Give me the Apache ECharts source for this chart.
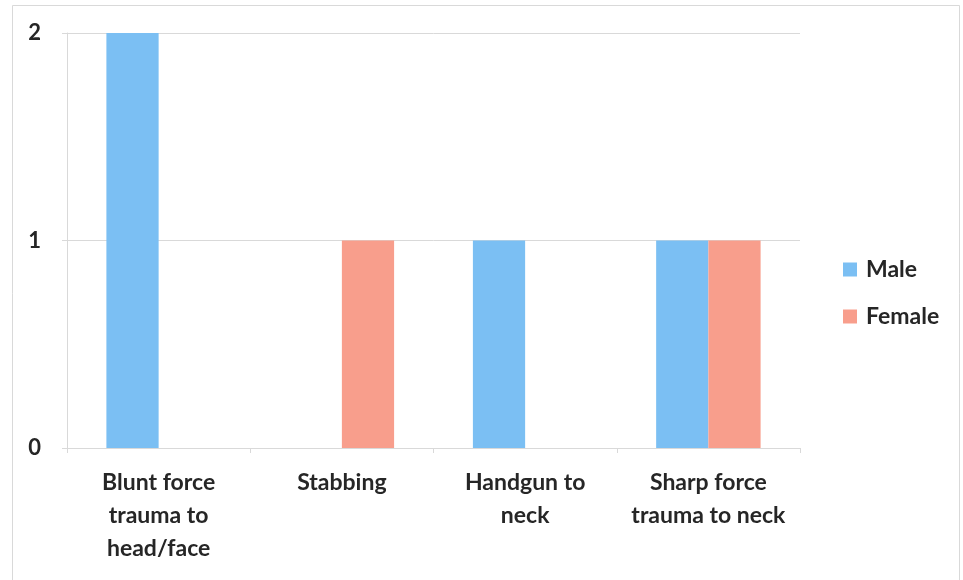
<!DOCTYPE html>
<html>
<head>
<meta charset="utf-8">
<script src="https://cdn.jsdelivr.net/npm/echarts@6/dist/echarts.min.js"></script>
<style>
html,body{margin:0;padding:0;background:#fff;}
#chart{width:963px;height:580px;}
</style>
</head>
<body>
<div id="chart"></div>
<script>
const categories = ["Blunt force\ntrauma to\nhead/face", "Stabbing", "Handgun to\nneck", "Sharp force\ntrauma to neck"];
const maleValues = [2, 0, 1, 1];
const femaleValues = [0, 1, 0, 1];
const seriesNames = ["Male", "Female"];

const chart = echarts.init(document.getElementById('chart'));
const font = 'Lato, "Open Sans", sans-serif';
chart.setOption({
  animation: false,
  backgroundColor: '#fff',
  graphic: [{
    type: 'rect',
    shape: {x: 12.5, y: 5.5, width: 947, height: 580},
    style: {fill: 'none', stroke: '#d9d9d9', lineWidth: 1},
    silent: true
  }],
  grid: {left: 67, right: 163, top: 33, bottom: 132, containLabel: false},
  legend: {
    orient: 'vertical',
    left: 843,
    top: 258,
    padding: 0,
    itemWidth: 14,
    itemHeight: 14,
    itemGap: 24,
    icon: 'rect',
    data: seriesNames,
    textStyle: {fontFamily: font, fontSize: 23, fontWeight: 'bold', color: '#262626', padding: [0, 0, 0, 4]}
  },
  xAxis: {
    type: 'category',
    data: categories,
    axisLine: {show: true, lineStyle: {color: '#d9d9d9', width: 1}},
    axisTick: {show: true, length: 5, lineStyle: {color: '#d9d9d9'}},
    axisLabel: {
      interval: 0,
      margin: 18,
      fontFamily: font,
      fontSize: 23,
      fontWeight: 'bold',
      color: '#262626',
      lineHeight: 33
    }
  },
  yAxis: {
    type: 'value',
    min: 0,
    max: 2,
    interval: 1,
    axisLine: {show: true, lineStyle: {color: '#d9d9d9', width: 1}},
    axisTick: {show: true, length: 5, lineStyle: {color: '#d9d9d9'}},
    splitLine: {show: true, lineStyle: {color: '#d9d9d9', width: 1}},
    axisLabel: {
      margin: 26,
      fontFamily: font,
      fontSize: 22,
      fontWeight: 'bold',
      color: '#262626'
    }
  },
  series: [
    {
      name: seriesNames[0],
      type: 'bar',
      data: maleValues,
      barGap: '0%',
      barCategoryGap: '43%',
      itemStyle: {color: '#7bbff3'}
    },
    {
      name: seriesNames[1],
      type: 'bar',
      data: femaleValues,
      barGap: '0%',
      barCategoryGap: '43%',
      itemStyle: {color: '#f89e8c'}
    }
  ]
});
</script>
</body>
</html>
